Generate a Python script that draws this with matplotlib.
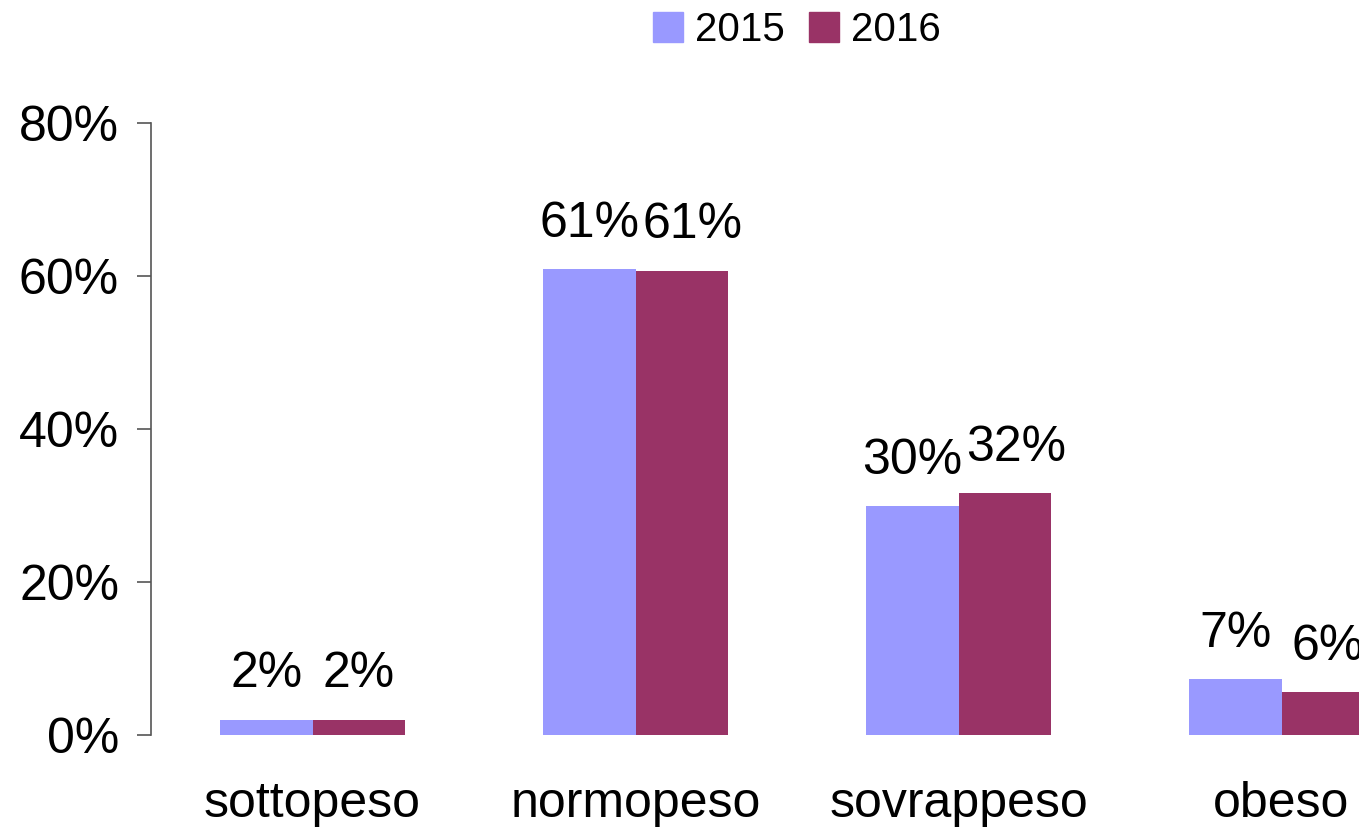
import matplotlib
matplotlib.use("Agg")
import matplotlib.pyplot as plt
import numpy as np
from matplotlib.patches import Patch

categories = ["sottopeso", "normopeso", "sovrappeso", "obeso"]
years = ["2015", "2016"]
values_2015 = [2.0, 60.9, 29.9, 7.3]
values_2016 = [2.0, 60.7, 31.6, 5.6]
yticks = [0, 20, 40, 60, 80]
colors = ["#9999FF", "#993366"]

plt.rcParams['font.family'] = ['Liberation Sans', 'DejaVu Sans']

W, H = 1359, 831
fig = plt.figure(figsize=(W / 100, H / 100), dpi=100)
ax = fig.add_axes([151 / W, 1 - 735 / H, 1292 / W, (735 - 123) / H])

x = np.arange(len(categories))
bw = 0.286
b1 = ax.bar(x - bw / 2, values_2015, bw, color=colors[0], label=years[0])
b2 = ax.bar(x + bw / 2, values_2016, bw, color=colors[1], label=years[1])
ax.bar_label(b1, fmt='{:.0f}%', padding=16, fontsize=36, clip_on=False)
labels2 = ax.bar_label(b2, fmt='{:.0f}%', padding=16, fontsize=36, clip_on=False)
# labels nudged right where they would touch the neighbouring label
for i in (1, 2):
    labels2[i].xyann = (8, 16)

ax.set_xlim(-0.5, 3.5)
ax.set_ylim(0, 80)
ax.set_yticks(yticks)
ax.set_yticklabels([f"{v}%" for v in yticks], fontsize=36)
ax.set_xticks(x)
ax.set_xticklabels(categories, fontsize=36)
ax.tick_params(axis='x', length=0, pad=33)
ax.tick_params(axis='y', length=10, width=1.2, color='#555555', pad=13)
for s in ['top', 'right', 'bottom']:
    ax.spines[s].set_visible(False)
ax.spines['left'].set_color('#555555')
ax.spines['left'].set_linewidth(1.2)

handles = [Patch(color=colors[0], label=years[0]), Patch(color=colors[1], label=years[1])]
fig.legend(handles=handles, loc='center', bbox_to_anchor=(797 / W, 1 - 30 / H), ncol=2,
           frameon=False, fontsize=29, handlelength=0.75, handleheight=0.75,
           handletextpad=0.3, columnspacing=0.6, borderpad=0)

fig.savefig("out.png", dpi=100)
